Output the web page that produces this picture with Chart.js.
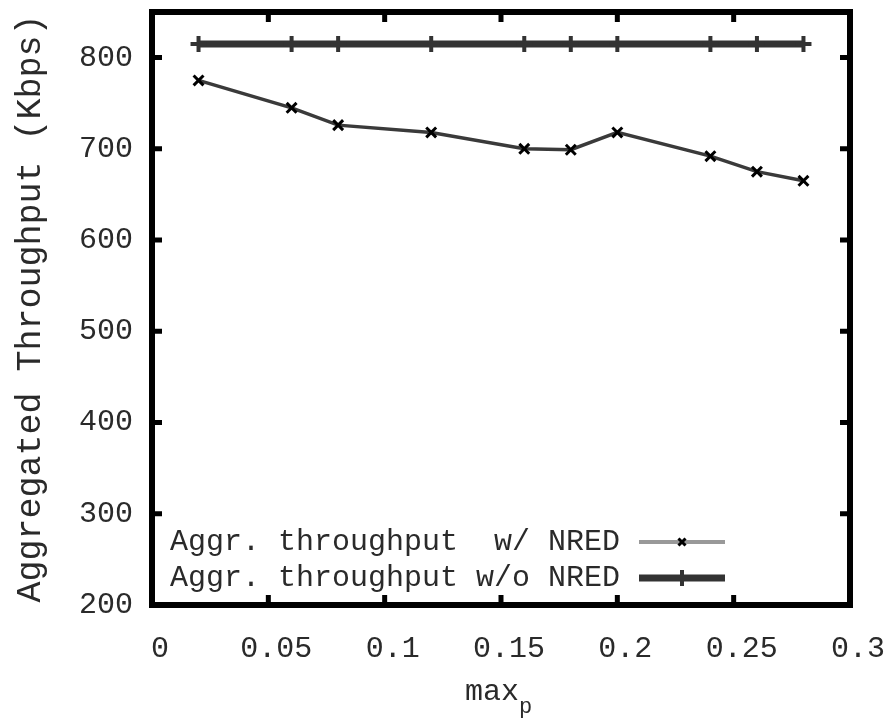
<!DOCTYPE html>
<html>
<head>
<meta charset="utf-8">
<script src="https://cdn.jsdelivr.net/npm/chart.js@4.4.1/dist/chart.umd.min.js"></script>
<style>
  html, body { margin: 0; padding: 0; background: #fff; }
  canvas { display: block; }
</style>
</head>
<body>
<canvas id="chartThroughput" width="889" height="719"></canvas>
<script>
const maxP = [0.02, 0.06, 0.08, 0.12, 0.16, 0.18, 0.2, 0.24, 0.26, 0.28]
const withNred = [775, 745, 726, 718, 700, 699, 718, 692, 675, 665]
const withoutNred = [815, 815, 815, 815, 815, 815, 815, 815, 815, 815]
const xTicks = [0, 0.05, 0.1, 0.15, 0.2, 0.25, 0.3]
const yTicks = [200, 300, 400, 500, 600, 700, 800]
const seriesLabels = ['Aggr. throughput  w/ NRED', 'Aggr. throughput w/o NRED']

const FONT = '"Liberation Mono", "DejaVu Sans Mono", monospace'
const TEXT = '#2a2a2a'

const canvas = document.getElementById('chartThroughput')
const context = canvas.getContext('2d')

const toPoints = (xs, ys) => xs.map((v, i) => ({ x: v, y: ys[i] }))

// gnuplot style frame with inward ticks on all four sides
const frame = {
    id: 'frame',
    afterDraw(chart) {
        const { ctx, chartArea: { left, right, top, bottom }, scales: { x, y } } = chart
        ctx.save()
        ctx.strokeStyle = '#000'
        ctx.lineWidth = 6
        ctx.strokeRect(left, top, right - left, bottom - top)
        ctx.lineWidth = 5
        ctx.beginPath()
        xTicks.forEach(v => {
            const px = x.getPixelForValue(v)
            ctx.moveTo(px, bottom); ctx.lineTo(px, bottom - 10)
            ctx.moveTo(px, top); ctx.lineTo(px, top + 10)
        })
        yTicks.forEach(v => {
            const py = y.getPixelForValue(v)
            ctx.moveTo(left, py); ctx.lineTo(left + 10, py)
            ctx.moveTo(right, py); ctx.lineTo(right - 10, py)
        })
        ctx.stroke()
        ctx.restore()
    }
}

const keyBox = {
    id: 'keyBox',
    afterDatasetsDraw(chart) {
        const { ctx } = chart
        const rows = [542, 578]
        ctx.save()
        ctx.font = `30px ${FONT}`
        ctx.textAlign = 'right'
        ctx.textBaseline = 'middle'
        chart.data.datasets.forEach((ds, i) => {
            const yy = rows[i]
            ctx.fillStyle = TEXT
            ctx.fillText(ds.label, 620, yy)
            ctx.strokeStyle = ds.keyColor
            ctx.lineWidth = ds.keyWidth
            ctx.beginPath()
            ctx.moveTo(639, yy)
            ctx.lineTo(725, yy)
            ctx.stroke()
            ctx.strokeStyle = ds.pointBorderColor
            ctx.fillStyle = ds.pointBorderColor
            ctx.lineWidth = ds.pointBorderWidth
            Chart.helpers.drawPoint(ctx, { pointStyle: ds.pointStyle, radius: ds.keyRadius, rotation: 0, borderWidth: ds.pointBorderWidth }, 682, yy)
        })
        ctx.restore()
    }
}

const xTitle = {
    id: 'xTitle',
    afterDraw(chart) {
        const { ctx } = chart
        ctx.save()
        ctx.fillStyle = TEXT
        ctx.textAlign = 'left'
        ctx.textBaseline = 'alphabetic'
        ctx.font = `30px ${FONT}`
        ctx.fillText('max', 465, 700)
        ctx.font = `22px ${FONT}`
        ctx.fillText('p', 519, 713)
        ctx.restore()
    }
}

const fitAxis = size => scale => {
    if (scale.isHorizontal()) scale.height = size
    else scale.width = size
    scale.paddingLeft = 0
    scale.paddingRight = 0
    scale.paddingTop = 0
    scale.paddingBottom = 0
}

const chartThroughput = new Chart(context, {
    type: 'line',
    data: {
        datasets: [
            {
                label: seriesLabels[0],
                data: toPoints(maxP, withNred),
                borderColor: '#3a3a3a',
                keyColor: '#999',
                keyWidth: 4,
                keyRadius: 5,
                borderWidth: 3.5,
                pointStyle: 'crossRot',
                pointRadius: 7,
                pointBorderWidth: 3,
                pointBorderColor: '#000',
                pointBackgroundColor: '#000',
                tension: 0
            },
            {
                label: seriesLabels[1],
                data: toPoints(maxP, withoutNred),
                borderColor: '#333',
                keyColor: '#333',
                keyWidth: 7,
                keyRadius: 8,
                borderWidth: 7,
                pointStyle: 'cross',
                pointRadius: 8,
                pointBorderWidth: 4,
                pointBorderColor: '#333',
                pointBackgroundColor: '#333',
                tension: 0
            }
        ]
    },
    options: {
        responsive: false,
        animation: false,
        devicePixelRatio: 1,
        layout: { padding: { top: 6, right: 39, left: 0, bottom: 0 } },
        plugins: {
            legend: { display: false },
            tooltip: { enabled: false }
        },
        scales: {
            x: {
                type: 'linear',
                min: 0,
                max: 0.3,
                afterBuildTicks: scale => { scale.ticks = xTicks.map(v => ({ value: v })) },
                afterFit: fitAxis(114),
                grid: { display: false, drawTicks: false },
                border: { display: false },
                ticks: {
                    padding: 26,
                    labelOffset: 8,
                    maxRotation: 0,
                    autoSkip: false,
                    color: TEXT,
                    font: { family: FONT, size: 30 },
                    callback: v => String(v)
                }
            },
            y: {
                min: 200,
                max: 850,
                afterBuildTicks: scale => { scale.ticks = yTicks.map(v => ({ value: v })) },
                afterFit: fitAxis(152),
                grid: { display: false, drawTicks: false },
                border: { display: false },
                ticks: {
                    padding: 19,
                    autoSkip: false,
                    color: TEXT,
                    font: { family: FONT, size: 30 },
                    callback: v => String(v)
                },
                title: {
                    display: true,
                    text: 'Aggregated Throughput (Kbps)',
                    color: TEXT,
                    font: { family: FONT, size: 35 },
                    padding: { top: 10, bottom: 0 }
                }
            }
        }
    },
    plugins: [frame, keyBox, xTitle]
})
</script>
</body>
</html>
